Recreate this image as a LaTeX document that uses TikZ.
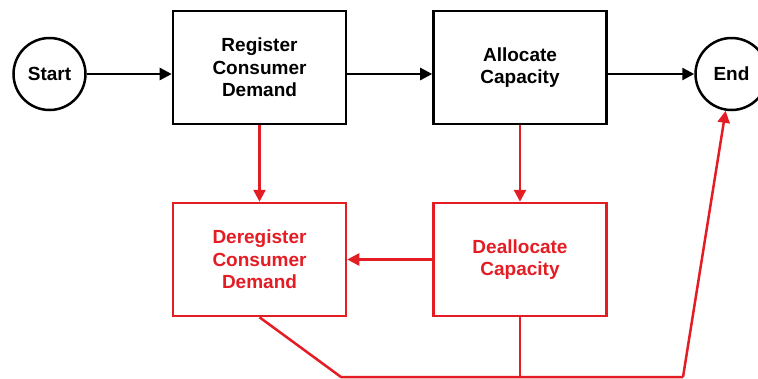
\documentclass[tikz,border=0pt]{standalone}
\usepackage{fontspec}
\setmainfont{Liberation Sans}
\usetikzlibrary{arrows.meta}
\definecolor{flowred}{RGB}{228,28,36}
\tikzset{
  every picture/.style={x=1pt,y=-1pt},
  lbl/.style={font=\bfseries\fontsize{19}{22.5}\selectfont, align=center, inner sep=0pt},
  terminal/.style={lbl, draw=black, circle, line width=2.5pt, minimum size=72pt},
  stepbox/.style={lbl, draw=black, line width=2.6pt, minimum width=173pt, minimum height=113pt},
  undobox/.style={lbl, draw=flowred, text=flowred, line width=2.5pt, minimum width=173pt, minimum height=113pt},
  flow/.style={draw=black, line width=2.5pt, -{Triangle[length=12pt,width=12pt]}},
  undo/.style={draw=flowred, line width=2.5pt, -{Triangle[length=12pt,width=12pt]}},
  undoline/.style={draw=flowred, line width=2.5pt}
}
\begin{document}
\begin{tikzpicture}
\useasboundingbox (0,0) rectangle (758,378);
\clip (0,0) rectangle (758,378);
\fill[white] (0,0) rectangle (758,378);

% main path
\node[terminal] (start) at (49.5,74) {Start};
\node[stepbox] (reg) at (259.5,67.5) {Register\\Consumer\\Demand};
\node[stepbox] (alloc) at (520,67.5) {Allocate\\Capacity};
\node[terminal] (end) at (731.5,74) {End};

% rollback path
\node[undobox] (dereg) at (259.5,259.5) {Deregister\\Consumer\\Demand};
\node[undobox] (dealloc) at (520,259.5) {Deallocate\\Capacity};

\draw[flow] (start.east) -- (start.east -| reg.west);
\draw[flow] (reg.east |- start.east) -- (alloc.west |- start.east);
\draw[flow] (alloc.east |- end.west) -- (end.west);

\draw[undo] (reg.south) -- (dereg.north);
\draw[undo] (alloc.south) -- (dealloc.north);
\draw[undo] (dealloc.west) -- (dereg.east);

% return to End along the bottom
\coordinate (bl) at (341,377);
\coordinate (br) at (683,377);
\coordinate (bm) at (dealloc.south |- bl);
\draw[undoline, line join=round] (dereg.south) -- (bl) -- (br);
\draw[undoline] (dealloc.south) -- (bm);
\draw[undo] (br) -- (end);
\end{tikzpicture}
\end{document}
